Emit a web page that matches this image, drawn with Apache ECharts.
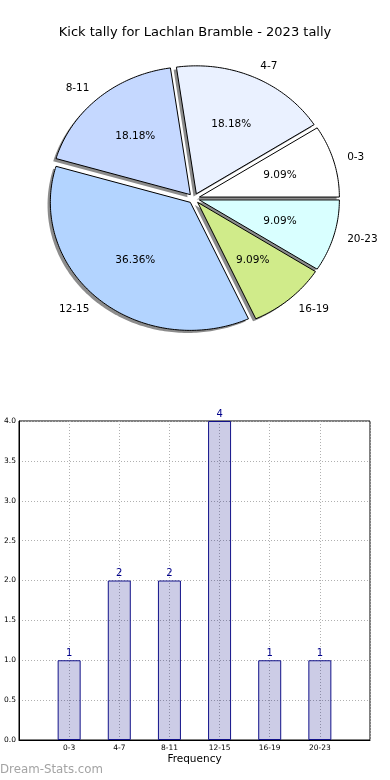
<!DOCTYPE html>
<html>
<head>
<meta charset="utf-8">
<script src="https://cdn.jsdelivr.net/npm/echarts@6/dist/echarts.min.js"></script>
<style>
html,body{margin:0;padding:0;background:#fff;}
#c{width:390px;height:780px;}
</style>
</head>
<body>
<div id="c"></div>
<script>
const titleText = 'Kick tally for Lachlan Bramble - 2023 tally';
const categories = ['0-3', '4-7', '8-11', '12-15', '16-19', '20-23'];
const counts = [1, 2, 2, 4, 1, 1];
const pieColors = ['#ffffff', '#eaf1ff', '#c5d8ff', '#b3d4ff', '#d0eb8a', '#d9ffff'];

const FONT = 'DejaVu Sans';
const total = counts.reduce((a, b) => a + b, 0);
const EXPLODE = 0.04;      // fraction of radius
const SHADOW = 0.02;       // shadow offset, fraction of radius
const PCT_DIST = 0.6;
const LABEL_DIST = 1.1;

// cumulative wedge angles (degrees, counterclockwise from 3 o'clock)
const wedges = [];
(function () {
  let acc = 0;
  counts.forEach((c, i) => {
    const a1 = acc / total * 360;
    acc += c;
    const a2 = acc / total * 360;
    wedges.push({ a1, a2, mid: (a1 + a2) / 2 });
  });
})();

function wedgeRender(isShadow) {
  return function (params, api) {
    const i = params.dataIndex;
    const w = wedges[i];
    const rad = Math.PI / 180;
    const m = w.mid * rad;
    let ox = EXPLODE * Math.cos(m), oy = EXPLODE * Math.sin(m);
    if (isShadow) { ox -= SHADOW; oy -= SHADOW; }
    const pts = [api.coord([ox, oy])];
    const steps = Math.max(2, Math.ceil(w.a2 - w.a1));
    for (let k = 0; k <= steps; k++) {
      const a = (w.a1 + (w.a2 - w.a1) * k / steps) * rad;
      pts.push(api.coord([ox + Math.cos(a), oy + Math.sin(a)]));
    }
    const children = [{
      type: 'polygon',
      shape: { points: pts },
      style: isShadow
        ? { fill: '#8c8c8c', stroke: null }
        : { fill: pieColors[i], stroke: '#000', lineWidth: 1 }
    }];
    if (!isShadow) {
      const pp = api.coord([ox + PCT_DIST * Math.cos(m), oy + PCT_DIST * Math.sin(m)]);
      const lp = api.coord([ox + LABEL_DIST * Math.cos(m), oy + LABEL_DIST * Math.sin(m)]);
      children.push({
        type: 'text',
        style: {
          text: (api.value(2) / total * 100).toFixed(2) + '%',
          x: pp[0], y: pp[1], align: 'center', verticalAlign: 'middle',
          fontFamily: FONT, fontSize: 10.5, fill: '#000'
        }
      });
      children.push({
        type: 'text',
        style: {
          text: categories[i],
          x: lp[0], y: lp[1], align: Math.cos(m) > 0 ? 'left' : 'right', verticalAlign: 'middle',
          fontFamily: FONT, fontSize: 10.5, fill: '#000'
        }
      });
    }
    return { type: 'group', children };
  };
}

const pieData = counts.map((c, i) => ({ name: categories[i], value: [0, 0, c] }));

const chart = echarts.init(document.getElementById('c'), null, { renderer: 'canvas' });
chart.setOption({
  animation: false,
  title: {
    text: titleText,
    left: 'center',
    top: 21,
    textStyle: { fontFamily: FONT, fontSize: 13, fontWeight: 'normal', color: '#000' }
  },
  graphic: [{
    type: 'text',
    left: 0,
    top: 764,
    style: { text: 'Dream-Stats.com', fontFamily: FONT, fontSize: 11.8, fill: '#a4a4a4' }
  }],
  grid: [
    { left: 19, top: 421, right: 20, bottom: 40, show: true, borderColor: '#000', borderWidth: 1 },
    { left: 54, top: 70.5, width: 280, height: 256 }
  ],
  xAxis: [{
    type: 'category',
    gridIndex: 0,
    data: [''].concat(categories, ['']),
    boundaryGap: false,
    name: 'Frequency',
    nameLocation: 'middle',
    nameGap: 14,
    nameTextStyle: { fontFamily: FONT, fontSize: 10.5, color: '#000' },
    axisLine: { lineStyle: { color: '#000' } },
    axisTick: { show: false },
    axisLabel: { fontFamily: FONT, fontSize: 7.5, color: '#000', margin: 4, interval: 0 },
    splitLine: { show: true, lineStyle: { color: '#b0b0b0', type: [1, 2], width: 1 } }
  }, {
    type: 'value', gridIndex: 1, min: -1, max: 1, show: false
  }],
  yAxis: [{
    type: 'value',
    gridIndex: 0,
    min: 0, max: 4, interval: 0.5,
    axisLine: { show: true, lineStyle: { color: '#000' } },
    axisTick: { show: false },
    axisLabel: { fontFamily: FONT, fontSize: 7.5, color: '#000', margin: 3, formatter: v => v.toFixed(1) },
    splitLine: { show: true, lineStyle: { color: '#b0b0b0', type: [1, 2], width: 1 } }
  }, {
    type: 'value', gridIndex: 1, min: -1, max: 1, show: false
  }],
  series: [
    {
      type: 'custom', xAxisIndex: 1, yAxisIndex: 1, z: 1, silent: true,
      renderItem: wedgeRender(true), data: pieData
    },
    {
      type: 'custom', xAxisIndex: 1, yAxisIndex: 1, z: 2, silent: true,
      renderItem: wedgeRender(false), data: pieData
    },
    {
      type: 'bar',
      xAxisIndex: 0, yAxisIndex: 0,
      data: [null].concat(counts, [null]),
      barWidth: 23,
      itemStyle: { color: 'rgba(0,0,128,0.2)', borderColor: '#12128a', borderWidth: 1 },
      label: { show: true, position: 'top', distance: 2, fontFamily: FONT, fontSize: 10, color: '#00008b' },
      silent: true
    }
  ]
});
</script>
</body>
</html>
